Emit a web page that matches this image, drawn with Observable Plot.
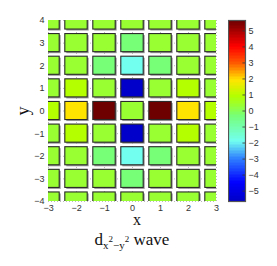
<!DOCTYPE html>
<html>
<head>
<meta charset="utf-8">
<script src="https://cdn.jsdelivr.net/npm/d3@7"></script>
<script src="https://cdn.jsdelivr.net/npm/@observablehq/plot@0.6"></script>
<style>
  html, body { margin: 0; padding: 0; background: #fff; }
  #wrap { position: relative; width: 277px; height: 266px; overflow: hidden; }
  #main, #cbar { position: absolute; top: 0; }
  #main { left: 0; }
  #cbar { left: 228px; }
  .lbl { position: absolute; font-family: "Liberation Serif", "Times New Roman", serif; color: #111; white-space: nowrap; line-height: 1; }
  #xlab { left: 137px; top: 215px; font-size: 16px; line-height: 10px; transform: translateX(-50%); }
  #ylab { left: 23px; top: 111px; font-size: 18px; transform: translate(-50%, -50%) rotate(-90deg); }
  #title { left: 132px; top: 231px; font-size: 17px; transform: translateX(-50%); }
  #title sub { font-size: 11px; vertical-align: -4px; }
  #title sup { font-size: 9px; vertical-align: 7px; }
</style>
</head>
<body>
<div id="wrap">
  <div id="main"></div>
  <div id="cbar"></div>
  <div class="lbl" id="xlab">x</div>
  <div class="lbl" id="ylab">y</div>
  <div class="lbl" id="title">d<sub>x<sup>2</sup>−y<sup>2</sup></sub> wave</div>
</div>
<script>
// ---- data ----
const xValues = [-3, -2, -1, 0, 1, 2, 3];
const yValues = [4, 3, 2, 1, 0, -1, -2, -3, -4];
// gap amplitude, rows from y = 4 (top) to y = -4 (bottom), columns x = -3..3
const gapRows = [
  [0.3, 0.3, 0.3, 0.3, 0.3, 0.3, 0.3],
  [0.3, 0.3, 0.3, -0.3, 0.3, 0.3, 0.3],
  [0.3, 0.3, -0.3, -1.9, -0.3, 0.3, 0.3],
  [0.3, 0.9, 0.3, -5.6, 0.3, 0.9, 0.3],
  [0.9, 1.9, 5.6, 0.3, 5.6, 1.9, 0.9],
  [0.3, 0.9, 0.3, -5.6, 0.3, 0.9, 0.3],
  [0.3, 0.3, -0.3, -1.9, -0.3, 0.3, 0.3],
  [0.3, 0.3, 0.3, -0.3, 0.3, 0.3, 0.3],
  [0.3, 0.3, 0.3, 0.3, 0.3, 0.3, 0.3]
];
const xTicks = [-3, -2, -1, 0, 1, 2, 3];
const yTicks = [-4, -3, -2, -1, 0, 1, 2, 3, 4];
const colorTicks = [-5, -4, -3, -2, -1, 0, 1, 2, 3, 4, 5];
const colorMin = -5.65, colorMax = 5.65;
// jet-like colormap stops (value, colour)
const stopValues = [-5.65, -4.5, -3.0, -1.9, -0.3, 0.3, 0.9, 1.9, 3.0, 4.0, 5.65];
const stopColors = ["#0000c8", "#0000ff", "#2f80ff", "#72fff0", "#77ff77", "#99ff33", "#b4ff00", "#ffe400", "#ff5500", "#ff0000", "#6b0000"];

const cells = yValues.flatMap((y, i) => xValues.map((x, j) => ({x, y, v: gapRows[i][j]})));

const stopT = stopValues.map(v => (v - colorMin) / (colorMax - colorMin));
const jetLike = d3.scaleLinear().domain(stopT).range(stopColors).interpolate(d3.interpolateRgb).clamp(true);
const colorScale = {type: "linear", domain: [colorMin, colorMax], interpolate: t => jetLike(t)};

const half = 0.4;
const fontFam = "'Liberation Sans', Arial, sans-serif";
const fmt = d => String(d).replace("-", "−");

const main = Plot.plot({
  width: 222, height: 215,
  marginLeft: 48, marginRight: 6, marginTop: 20, marginBottom: 14,
  style: {fontFamily: fontFam, fontSize: "9px", color: "#333", background: "transparent"},
  x: {domain: [-3, 3], ticks: xTicks, tickSize: 0, tickPadding: 3, label: null, tickFormat: fmt},
  y: {domain: [-4, 4], ticks: yTicks, tickSize: 0, tickPadding: 4, label: null, tickFormat: fmt},
  color: colorScale,
  marks: [
    Plot.gridX(xTicks, {stroke: "#aaa", strokeOpacity: 0.8, strokeDasharray: "1,2"}),
    Plot.gridY(yTicks, {stroke: "#aaa", strokeOpacity: 0.8, strokeDasharray: "1,2"}),
    Plot.rect(cells, {x1: d => d.x - half, x2: d => d.x + half, y1: d => d.y - half, y2: d => d.y + half,
      fill: "#999", dx: 1.5, dy: 1.5, clip: true}),
    Plot.rect(cells, {x1: d => d.x - half, x2: d => d.x + half, y1: d => d.y - half, y2: d => d.y + half,
      fill: "v", stroke: "#2a2a2a", strokeWidth: 1.1, clip: true})
  ]
});
document.getElementById("main").appendChild(main);

// colour-bar gradient samples (legend only)
const nBands = 120;
const bands = d3.range(nBands).map(i => ({
  lo: colorMin + i * (colorMax - colorMin) / nBands,
  hi: colorMin + (i + 1) * (colorMax - colorMin) / nBands
}));

const cbar = Plot.plot({
  width: 49, height: 215,
  marginLeft: 0, marginRight: 32, marginTop: 20, marginBottom: 14,
  style: {fontFamily: fontFam, fontSize: "9px", color: "#333", background: "transparent"},
  x: {domain: [0, 1], axis: null},
  y: {domain: [colorMin, colorMax], ticks: colorTicks, axis: "right", tickSize: 0, tickPadding: 3, label: null, tickFormat: fmt},
  color: colorScale,
  marks: [
    Plot.rect(bands, {x1: 0, x2: 1, y1: "lo", y2: "hi", fill: d => (d.lo + d.hi) / 2, inset: 0, shapeRendering: "crispEdges"}),
    Plot.ruleY(colorTicks, {y: d => d, x1: 0.85, x2: 1, stroke: "#333", strokeWidth: 0.8}),
    Plot.frame({stroke: "#555", strokeWidth: 1.2})
  ]
});
document.getElementById("cbar").appendChild(cbar);
</script>
</body>
</html>
